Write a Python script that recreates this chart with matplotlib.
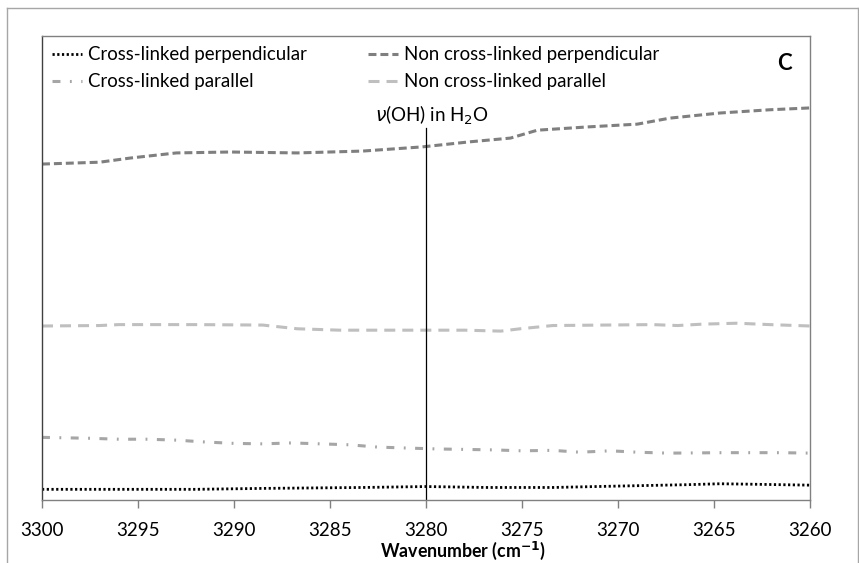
import matplotlib
matplotlib.use("Agg")
import matplotlib.pyplot as plt
from matplotlib.lines import Line2D

plt.rcParams['font.family'] = ['Lato', 'DejaVu Sans']
plt.rcParams['mathtext.fontset'] = 'dejavusans'

# spectra (arbitrary absorbance units)
wn_ncl_perp = [3300, 3297, 3295.4, 3293, 3290.2, 3286.7, 3283.3, 3280.2, 3277.7, 3275.6,
               3274.2, 3271.6, 3269, 3267.3, 3264.7, 3262.1, 3260]
ncl_perp = [0.724, 0.728, 0.737, 0.748, 0.750, 0.748, 0.752, 0.761, 0.772, 0.780,
            0.797, 0.804, 0.810, 0.823, 0.834, 0.841, 0.845]

wn_ncl_par = [3300, 3297, 3296, 3292, 3288.5, 3287.6, 3286.7, 3284.5, 3281.5, 3278,
              3276.1, 3275.1, 3273.4, 3270.8, 3268.2, 3266.9, 3265.6, 3263.8, 3262.1, 3260]
ncl_par = [0.375, 0.376, 0.378, 0.378, 0.377, 0.373, 0.369, 0.366, 0.366, 0.366,
           0.364, 0.369, 0.376, 0.377, 0.378, 0.376, 0.379, 0.381, 0.378, 0.375]

wn_cl_par = [3300, 3297.5, 3296, 3294.5, 3293, 3291.5, 3290, 3288.5, 3287, 3285.5, 3284,
             3282.5, 3281, 3279.4, 3276.5, 3275, 3273.4, 3272, 3270.4, 3269, 3267.4,
             3264.5, 3261.5, 3260]
cl_par = [0.135, 0.133, 0.131, 0.131, 0.129, 0.125, 0.122, 0.121, 0.123, 0.121, 0.119,
          0.114, 0.112, 0.110, 0.108, 0.106, 0.107, 0.103, 0.106, 0.103, 0.101,
          0.102, 0.102, 0.101]

wn_cl_perp = [3300, 3292, 3288.5, 3283.3, 3280, 3276.8, 3273.4, 3270, 3266.4, 3264.7,
              3263, 3260]
cl_perp = [0.023, 0.023, 0.025, 0.027, 0.029, 0.027, 0.027, 0.030, 0.033, 0.035,
           0.034, 0.032]

x_ticks = [3300, 3295, 3290, 3285, 3280, 3275, 3270, 3265, 3260]
oh_band = 3280

fig = plt.figure(figsize=(8.59, 5.63), dpi=100)
ax = fig.add_axes([42 / 859, 63 / 563, 768 / 859, 464 / 563])

# outer chart frame
frame_col = '#a6a6a6'
fig.add_artist(Line2D([7 / 859, 858 / 859], [1 - 8 / 563, 1 - 8 / 563], color=frame_col, lw=1))
fig.add_artist(Line2D([7 / 859, 7 / 859], [0, 1 - 8 / 563], color=frame_col, lw=1))
fig.add_artist(Line2D([858 / 859, 858 / 859], [0, 1 - 8 / 563], color=frame_col, lw=1))

l1, = ax.plot(wn_cl_perp, cl_perp, color='black', lw=2.0, linestyle=(0, (0.8, 0.9)))
l2, = ax.plot(wn_ncl_perp, ncl_perp, color='#7f7f7f', lw=2.2, linestyle=(0, (2.6, 1.3)))
l3, = ax.plot(wn_cl_par, cl_par, color='#a6a6a6', lw=2.2,
              linestyle=(0, (2.6, 3.1, 0.6, 3.1)))
l4, = ax.plot(wn_ncl_par, ncl_par, color='#bfbfbf', lw=2.2, linestyle=(0, (3.6, 2.3)))

ax.axvline(oh_band, ymin=0, ymax=(500 - 128) / 464, color='black', lw=0.9)
ax.text(oh_band - 0.3, (500 - 122) / 464, r'$\nu$(OH) in H$_2$O', ha='center',
        va='baseline', fontsize=13.5)
ax.text(3261.35, (500 - 63) / 464, 'C', ha='center', va='center', fontsize=16,
        fontweight='bold')

ax.set_xlim(3300, 3260)
ax.set_ylim(0, 1)
ax.set_xticks(x_ticks)
ax.set_yticks([])
ax.tick_params(axis='x', direction='out', length=6, width=1, colors='#808080',
               labelcolor='black', labelsize=13.5, pad=10)
for s in ax.spines.values():
    s.set_color('#808080')
    s.set_linewidth(1)
ax.spines['left'].set_color('#404040')
ax.set_xlabel(r'Wavenumber (cm$^{\mathbf{-1}}$)', fontsize=12.8, fontweight='bold')
ax.xaxis.set_label_coords((463 - 42) / 768, -(551 - 500) / 464)
ax.xaxis.label.set_verticalalignment('center')

leg_kw = dict(frameon=False, fontsize=13.4, handlelength=1.6, handletextpad=0.3,
              labelspacing=0.54, borderaxespad=0, loc='upper left')
leg1 = ax.legend([l1, l3], ['Cross-linked perpendicular', 'Cross-linked parallel'],
                 bbox_to_anchor=(3 / 768, 1 - 3 / 464), **leg_kw)
ax.add_artist(leg1)
ax.legend([l2, l4], ['Non cross-linked perpendicular', 'Non cross-linked parallel'],
          bbox_to_anchor=(319 / 768, 1 - 3 / 464), **leg_kw)

fig.savefig('out.png', dpi=100)
